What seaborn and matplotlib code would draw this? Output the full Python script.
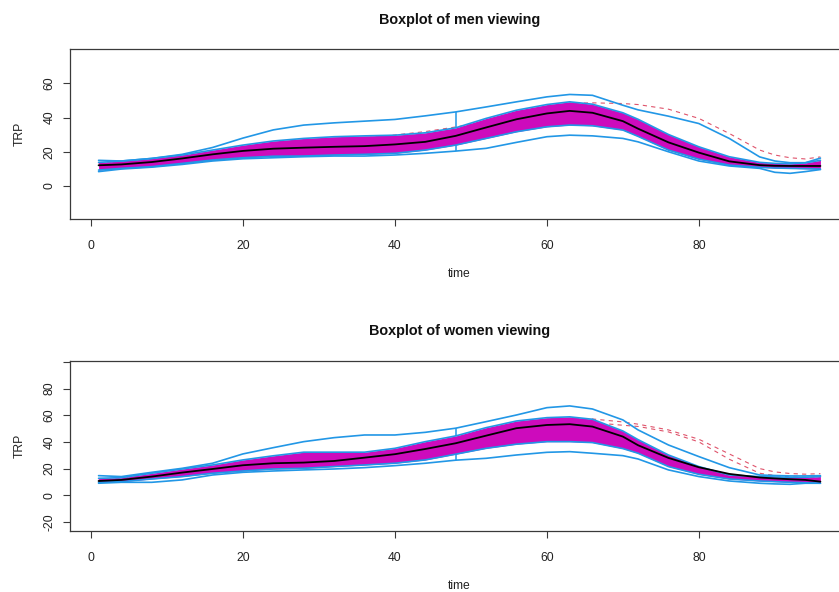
import matplotlib
matplotlib.use("Agg")
import matplotlib.pyplot as plt
import numpy as np
import pandas as pd
import seaborn as sns

# ---- data: functional boxplot summaries of TRP over time -------------------
time = [1, 4, 8, 12, 16, 20, 24, 28, 32, 36, 40, 44, 48, 52, 56, 60, 63, 66,
        70, 72, 76, 80, 84, 88, 90, 92, 94, 96]

# men viewing
men_median = [12.1, 12.6, 14.0, 16.1, 18.5, 20.5, 21.8, 22.4, 22.9, 23.3, 24.3, 25.8,
              29.3, 34.2, 39.0, 42.4, 43.9, 42.8, 37.9, 33.5, 25.5, 19.5, 14.4, 12.2,
              11.8, 11.7, 11.7, 11.7]
men_q3 = [13.8, 14.6, 16.1, 18.1, 21.0, 23.9, 26.3, 27.8, 28.8, 29.3, 29.7, 31.1,
          34.0, 39.5, 44.3, 47.6, 49.2, 47.8, 42.8, 39.0, 30.1, 22.9, 17.1, 13.8,
          13.2, 13.0, 13.5, 15.0]
men_q1 = [9.3, 10.3, 11.3, 13.2, 15.2, 16.5, 17.4, 17.5, 18.1, 18.5, 19.1, 21.0,
          23.9, 27.8, 31.7, 34.6, 35.6, 35.2, 32.7, 29.0, 21.0, 15.7, 12.2, 10.9,
          10.5, 10.3, 10.1, 9.9]
men_max = [15.0, 14.6, 16.1, 18.5, 22.5, 28.0, 32.8, 35.6, 36.9, 37.9, 38.9, 41.0,
           43.3, 46.2, 49.2, 52.1, 53.5, 53.0, 47.2, 44.5, 40.8, 36.5, 27.8, 17.0,
           14.6, 13.6, 13.6, 16.3]
men_min = [8.4, 9.9, 11.0, 12.6, 14.6, 15.9, 16.5, 17.1, 17.5, 17.5, 18.1, 19.1,
           20.4, 22.0, 25.5, 28.8, 29.7, 29.3, 27.8, 25.8, 20.0, 14.6, 11.7, 10.3,
           8.0, 7.4, 8.4, 9.6]
men_outlier = [13.0, 14.0, 15.5, 17.5, 20.0, 22.5, 24.5, 26.0, 27.0, 28.0, 29.8, 31.8,
               34.5, 37.5, 42.0, 46.0, 48.3, 48.6, 48.2, 47.6, 44.9, 39.5, 30.7, 21.0,
               18.1, 16.5, 15.8, 17.0]

# women viewing
women_median = [10.7, 11.5, 14.0, 17.0, 19.7, 22.5, 24.0, 24.5, 25.7, 28.2, 30.8, 34.7,
                39.0, 44.7, 50.3, 52.7, 53.3, 51.5, 44.0, 37.5, 28.0, 21.0, 16.0, 13.3,
                12.6, 12.0, 11.5, 10.2]
women_q3 = [12.7, 13.2, 16.5, 19.7, 22.7, 26.5, 29.6, 32.3, 32.3, 32.3, 35.2, 40.2,
            44.5, 50.7, 55.7, 58.2, 58.8, 57.0, 48.2, 41.7, 30.2, 21.5, 15.2, 14.0,
            13.7, 13.5, 13.5, 14.0]
women_q1 = [9.7, 10.2, 12.2, 14.0, 16.5, 18.2, 19.7, 20.2, 21.5, 22.7, 24.0, 26.5,
            30.8, 35.2, 38.3, 40.2, 40.2, 39.5, 35.0, 31.5, 21.5, 15.7, 12.2, 10.7,
            10.2, 9.7, 9.4, 9.0]
women_max = [14.7, 14.0, 17.2, 20.2, 24.0, 31.0, 35.7, 40.2, 43.2, 45.2, 45.2, 47.2,
             50.3, 55.2, 60.2, 65.7, 67.0, 64.7, 56.5, 49.0, 37.7, 29.0, 20.7, 15.2,
             14.8, 14.5, 14.5, 14.7]
women_min = [9.0, 9.7, 9.7, 11.5, 15.2, 17.2, 18.2, 19.0, 19.7, 20.7, 22.2, 24.0,
             26.3, 27.7, 30.2, 32.2, 32.7, 31.5, 29.7, 27.2, 19.0, 14.0, 10.7, 9.0,
             8.5, 8.2, 9.0, 9.0]
women_outlier1 = [11.5, 12.5, 15.0, 18.0, 21.0, 24.0, 27.0, 29.0, 30.0, 31.0, 33.0, 37.0,
                  42.0, 47.5, 53.0, 56.5, 57.5, 57.2, 55.0, 53.3, 49.0, 42.0, 31.0, 20.0,
                  17.5, 16.3, 15.8, 16.2]
women_outlier2 = [11.0, 12.0, 14.5, 17.5, 20.5, 23.0, 26.0, 28.0, 29.0, 30.0, 32.0, 35.0,
                  40.0, 45.0, 50.0, 54.0, 55.0, 54.5, 52.5, 51.6, 47.5, 40.0, 27.0, 16.5,
                  14.8, 13.8, 13.5, 13.5]

bar_time = 48  # position of the whisker bars (middle of the time range)

# ---- styling ----------------------------------------------------------------
sns.set_theme(style="white")
plt.rcParams["font.family"] = ["Liberation Sans", "DejaVu Sans"]

MAGENTA = "#CD0BBC"
BLUE = "#2297E6"
RED = "#DF536B"
FRAME = "#3a3a3a"


def panel_frame(median, q1, q3, lo, hi, outliers):
    df = pd.DataFrame({"time": time, "median": median, "q1": q1, "q3": q3,
                       "min": lo, "max": hi})
    for i, o in enumerate(outliers):
        df[f"out{i}"] = o
    return df


def draw_panel(ax, df, n_out, title, ylim, yticks, yticklabels):
    # outlying curves sit underneath the central region
    for i in range(n_out):
        sns.lineplot(data=df, x="time", y=f"out{i}", ax=ax, color=RED, lw=0.8,
                     linestyle=(0, (3.8, 3.8)))
    # 50% central region
    ax.fill_between(df["time"], df["q1"], df["q3"], color=MAGENTA, lw=0, zorder=2)
    for col in ["q1", "q3", "max", "min"]:
        sns.lineplot(data=df, x="time", y=col, ax=ax, color=BLUE, lw=1.2, zorder=3)
    row = df[df["time"] == bar_time].iloc[0]
    ax.vlines(bar_time, row["q3"], row["max"], color=BLUE, lw=1.1, zorder=3)
    ax.vlines(bar_time, row["min"], row["q1"], color=BLUE, lw=1.1, zorder=3)
    sns.lineplot(data=df, x="time", y="median", ax=ax, color="black", lw=1.3, zorder=4)

    ax.set_xlim(-2.76, 99.76)
    ax.set_ylim(*ylim)
    ax.set_xticks([0, 20, 40, 60, 80])
    ax.set_yticks(yticks)
    ax.set_yticklabels(yticklabels, rotation=90, va="center")
    ax.tick_params(axis="both", direction="out", length=5, width=0.8, color=FRAME,
                   labelsize=8.7, labelcolor="#222222", bottom=True, left=True)
    ax.tick_params(axis="x", pad=10)
    ax.tick_params(axis="y", pad=5.5)
    for s in ax.spines.values():
        s.set_color(FRAME)
        s.set_linewidth(0.9)
    ax.set_xlabel("time", fontsize=8.7, labelpad=11.5, color="#222222")
    ax.set_ylabel("TRP", fontsize=8.7, labelpad=12.8, color="#222222")
    ax.set_title(title, fontsize=10.4, fontweight="bold", pad=18.5, color="#111111")


fig = plt.figure(figsize=(8.39, 5.92), dpi=100)
W, H = 839, 592
ax1 = fig.add_axes([70 / W, (H - 219) / H, 779 / W, (219 - 49.3) / H])
ax2 = fig.add_axes([70 / W, (H - 530.7) / H, 779 / W, (530.7 - 361) / H])

men = panel_frame(men_median, men_q1, men_q3, men_min, men_max, [men_outlier])
women = panel_frame(women_median, women_q1, women_q3, women_min, women_max,
                    [women_outlier1, women_outlier2])

draw_panel(ax1, men, 1, "Boxplot of men viewing", (-19.3, 79.9),
           [0, 20, 40, 60], ["0", "20", "40", "60"])
draw_panel(ax2, women, 2, "Boxplot of women viewing", (-26.6, 100.7),
           [-20, 0, 20, 40, 60, 80, 100], ["-20", "0", "20", "40", "60", "80", ""])

fig.savefig("out.png", dpi=100)
